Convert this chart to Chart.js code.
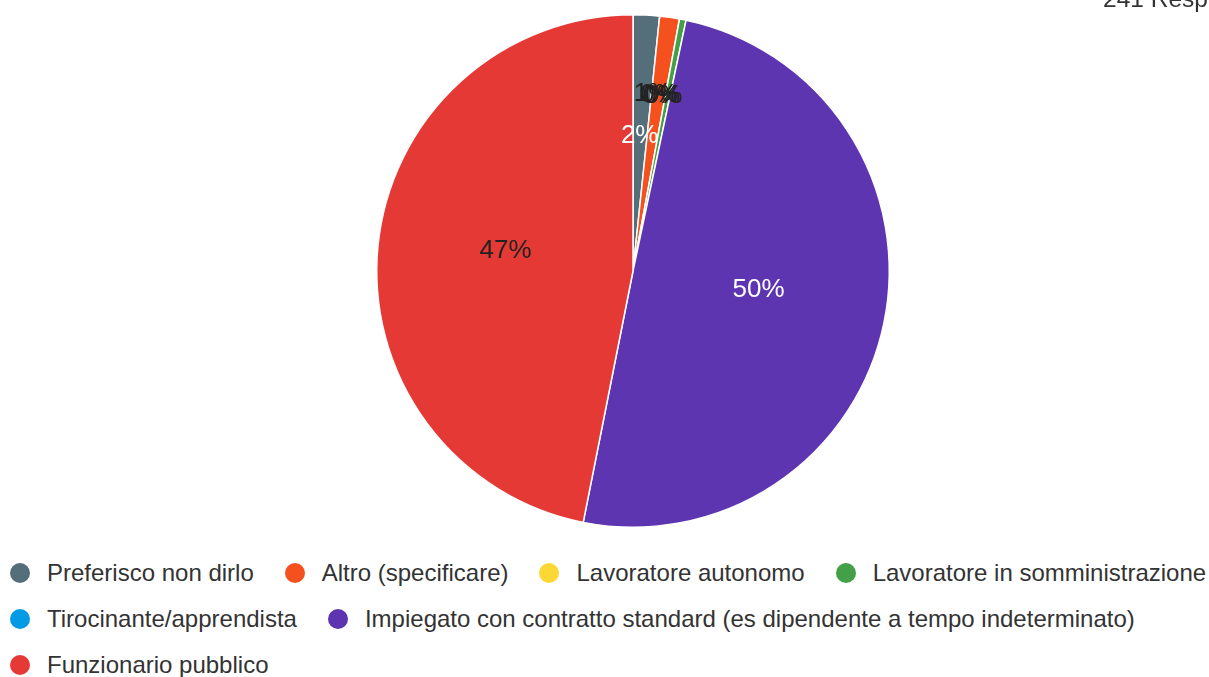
<!DOCTYPE html>
<html>
<head>
<meta charset="utf-8">
<script src="https://cdn.jsdelivr.net/npm/chart.js@4"></script>
<style>
  html, body { margin: 0; padding: 0; background: #fff; overflow: hidden; }
  body { width: 1209px; height: 677px; position: relative; font-family: "Liberation Sans", Arial, sans-serif; }
  #wrap { position: absolute; left: 0; top: 0; width: 1209px; height: 545px; }
  #title { position: absolute; left: 1103px; top: -13px; font-size: 24.5px; line-height: 24px; color: #333; white-space: nowrap; }
  #legend { position: absolute; left: 10px; top: 550px; width: 1260px; display: flex; flex-wrap: wrap; }
  .item { display: flex; align-items: center; height: 46px; margin-right: 31px; white-space: nowrap; font-size: 24px; color: #333; }
  .dot { width: 20px; height: 20px; border-radius: 50%; margin-right: 17px; flex: none; }
</style>
</head>
<body>
<div id="wrap"><canvas id="c" width="1209" height="545"></canvas></div>
<div id="title"></div>
<div id="legend"></div>
<script>
// ---- data ----
const title = "241 Responses";
const categories = [
  "Preferisco non dirlo",
  "Altro (specificare)",
  "Lavoratore autonomo",
  "Lavoratore in somministrazione",
  "Tirocinante/apprendista",
  "Impiegato con contratto standard (es dipendente a tempo indeterminato)",
  "Funzionario pubblico"
];
const counts = [4, 3, 0, 1, 0, 120, 113];
const percentLabels = ["2%", "1%", "0%", "0%", "0%", "50%", "47%"];

// ---- styles ----
const sliceColors = ["#546e7a", "#f4511e", "#fdd835", "#43a047", "#039be5", "#5e35b1", "#e53935"];
const labelColors = ["#ffffff", "#222222", "#222222", "#222222", "#222222", "#ffffff", "#222222"];

document.getElementById('title').textContent = title;

const legend = document.getElementById('legend');
categories.forEach((name, i) => {
  const it = document.createElement('div');
  it.className = 'item';
  const d = document.createElement('span');
  d.className = 'dot';
  d.style.background = sliceColors[i];
  const t = document.createElement('span');
  t.textContent = name;
  it.appendChild(d); it.appendChild(t);
  legend.appendChild(it);
});

const total = counts.reduce((a, b) => a + b, 0);

const labelPlugin = {
  id: 'sliceLabels',
  afterDatasetsDraw(chart) {
    const ctx = chart.ctx;
    const meta = chart.getDatasetMeta(0);
    ctx.save();
    ctx.font = '26px "Liberation Sans", Arial, sans-serif';
    ctx.textAlign = 'center';
    ctx.textBaseline = 'alphabetic';
    meta.data.forEach((arc, i) => {
      const p = arc.getProps(['x', 'y', 'startAngle', 'endAngle', 'outerRadius'], true);
      const mid = (p.startAngle + p.endAngle) / 2;
      const frac = counts[i] / total;
      const small = frac < 0.015;
      const rf = small ? 0.67 : 0.5;
      let lx = p.x + Math.cos(mid) * p.outerRadius * rf;
      const ly = p.y + Math.sin(mid) * p.outerRadius * rf;
      if (small) lx -= 5;
      ctx.fillStyle = labelColors[i];
      ctx.fillText(percentLabels[i], lx, ly);
    });
    ctx.restore();
  }
};

new Chart(document.getElementById('c'), {
  type: 'pie',
  data: {
    labels: categories,
    datasets: [{
      data: counts,
      backgroundColor: sliceColors,
      borderColor: '#ffffff',
      borderWidth: 1.5
    }]
  },
  options: {
    responsive: false,
    animation: false,
    devicePixelRatio: 1,
    layout: { padding: { left: 57, right: 0, top: 14, bottom: 17 } },
    plugins: {
      legend: { display: false },
      tooltip: { enabled: false },
      title: { display: false }
    }
  },
  plugins: [labelPlugin]
});
</script>
</body>
</html>
